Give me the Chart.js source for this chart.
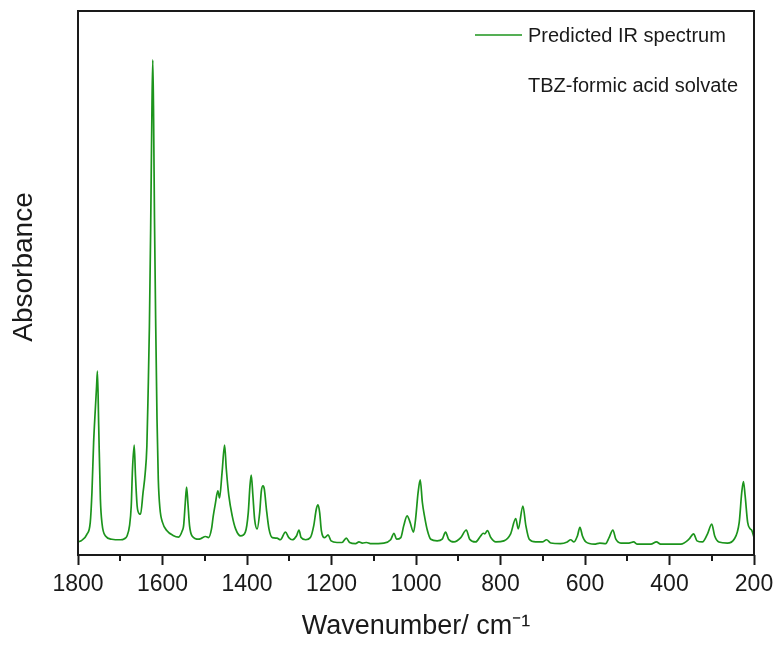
<!DOCTYPE html>
<html>
<head>
<meta charset="utf-8">
<script src="https://cdn.jsdelivr.net/npm/chart.js@4.4.1/dist/chart.umd.min.js"></script>
<style>
  html, body { margin: 0; padding: 0; background: #fff; }
  #wrap { width: 777px; height: 645px; }
</style>
</head>
<body>
<div id="wrap"><canvas id="myChart" width="777" height="645"></canvas></div>
<script>
// values (wavenumber in cm-1, absorbance in arbitrary units)
const wavenumbers = [
  1800, 1791, 1779, 1771, 1767, 1763, 1759, 1756, 1754, 1751, 1747, 1743, 1735, 1720, 1700, 1690,
  1684, 1678, 1674, 1671, 1667, 1664, 1660, 1655, 1652, 1646, 1641, 1637, 1634, 1631, 1628, 1625,
  1623, 1621, 1619, 1616, 1613, 1610, 1606, 1600, 1590, 1575, 1562, 1553, 1550, 1546, 1543, 1540,
  1536, 1530, 1514, 1510, 1498, 1491, 1484, 1480, 1475, 1469, 1465, 1459, 1453, 1449, 1443, 1435,
  1427, 1415, 1404, 1397, 1393, 1390, 1386, 1382, 1376, 1370, 1366, 1362, 1359, 1354, 1348, 1340,
  1329, 1321, 1309, 1301, 1293, 1283, 1277, 1272, 1261, 1250, 1242, 1236, 1232, 1228, 1224, 1216,
  1208, 1201, 1187, 1175, 1165, 1157, 1143, 1135, 1127, 1117, 1108, 1076, 1060, 1052, 1046, 1036,
  1029, 1021, 1014, 1006, 1001, 995, 990, 985, 980, 973, 965, 950, 938, 930, 923, 910,
  894, 881, 873, 859, 847, 841, 837, 831, 823, 811, 792, 776, 764, 758, 747, 740,
  732, 717, 701, 691, 681, 658, 642, 634, 626, 618, 612, 606, 598, 578, 565, 551,
  543, 534, 527, 515, 496, 485, 476, 444, 431, 421, 373, 354, 343, 335, 322, 310,
  300, 293, 283, 263, 247, 235, 229, 225, 221, 215, 209, 205, 200
];
const absorbance = [
  0.024, 0.027, 0.038, 0.060, 0.115, 0.207, 0.268, 0.310, 0.338, 0.237, 0.103, 0.057, 0.035, 0.029, 0.028, 0.030,
  0.035, 0.054, 0.090, 0.158, 0.202, 0.146, 0.090, 0.076, 0.075, 0.115, 0.150, 0.200, 0.300, 0.420, 0.600, 0.820,
  0.910, 0.800, 0.620, 0.420, 0.250, 0.140, 0.085, 0.060, 0.045, 0.036, 0.033, 0.045, 0.054, 0.097, 0.125, 0.097,
  0.054, 0.035, 0.029, 0.030, 0.034, 0.032, 0.048, 0.071, 0.094, 0.118, 0.105, 0.152, 0.202, 0.158, 0.109, 0.072,
  0.048, 0.035, 0.042, 0.078, 0.127, 0.147, 0.109, 0.066, 0.048, 0.078, 0.118, 0.127, 0.121, 0.084, 0.048, 0.032,
  0.031, 0.028, 0.042, 0.032, 0.028, 0.035, 0.046, 0.032, 0.028, 0.032, 0.054, 0.084, 0.092, 0.078, 0.045, 0.032,
  0.037, 0.026, 0.023, 0.023, 0.031, 0.023, 0.021, 0.024, 0.022, 0.023, 0.021, 0.022, 0.028, 0.040, 0.029, 0.032,
  0.054, 0.072, 0.060, 0.042, 0.066, 0.115, 0.138, 0.097, 0.072, 0.045, 0.029, 0.026, 0.029, 0.042, 0.029, 0.024,
  0.032, 0.046, 0.029, 0.024, 0.035, 0.040, 0.039, 0.045, 0.032, 0.024, 0.026, 0.039, 0.067, 0.048, 0.090, 0.054,
  0.029, 0.024, 0.024, 0.028, 0.022, 0.021, 0.024, 0.028, 0.024, 0.035, 0.051, 0.035, 0.024, 0.020, 0.022, 0.021,
  0.032, 0.046, 0.029, 0.022, 0.022, 0.024, 0.020, 0.020, 0.024, 0.020, 0.020, 0.029, 0.039, 0.026, 0.024, 0.039,
  0.057, 0.035, 0.024, 0.022, 0.029, 0.060, 0.115, 0.135, 0.109, 0.060, 0.048, 0.045, 0.032
];
const majorTicks = [1800, 1600, 1400, 1200, 1000, 800, 600, 400, 200];
const minorTicks = [1700, 1500, 1300, 1100, 900, 700, 500, 300];

const lineColor = '#1c941c';
const fontFamily = '"Liberation Sans", Arial, Helvetica, sans-serif';

// frame, minor ticks, y title and the legend with its note
const decorations = {
  id: 'decorations',
  afterDraw(chart) {
    const { ctx, chartArea } = chart;
    const xs = chart.scales.x;
    ctx.save();
    ctx.strokeStyle = '#1a1a1a';
    ctx.lineWidth = 2;
    ctx.strokeRect(chartArea.left, chartArea.top, chartArea.right - chartArea.left, chartArea.bottom - chartArea.top);

    ctx.beginPath();
    minorTicks.forEach(v => {
      const px = Math.round(xs.getPixelForValue(v));
      ctx.moveTo(px, chartArea.bottom);
      ctx.lineTo(px, chartArea.bottom + 6);
    });
    ctx.stroke();

    // y axis title
    ctx.save();
    ctx.translate(24, chartArea.top + 256);
    ctx.rotate(-Math.PI / 2);
    ctx.fillStyle = '#1a1a1a';
    ctx.font = '28px ' + fontFamily;
    ctx.textAlign = 'center';
    ctx.textBaseline = 'middle';
    ctx.fillText('Absorbance', 0, 0);
    ctx.restore();

    const lx = chartArea.right - 279;
    const ly = chartArea.top + 24;
    ctx.strokeStyle = lineColor;
    ctx.lineWidth = 1.5;
    ctx.beginPath();
    ctx.moveTo(lx, ly);
    ctx.lineTo(lx + 47, ly);
    ctx.stroke();

    ctx.fillStyle = '#1a1a1a';
    ctx.font = '20px ' + fontFamily;
    ctx.textBaseline = 'middle';
    ctx.textAlign = 'left';
    ctx.fillText(chart.data.datasets[0].label, lx + 53, ly + 1);
    ctx.fillText('TBZ-formic acid solvate', lx + 53, ly + 51);
    ctx.restore();
  }
};

new Chart(document.getElementById('myChart'), {
  type: 'line',
  data: {
    datasets: [{
      label: 'Predicted IR spectrum',
      data: wavenumbers.map((w, i) => ({ x: w, y: absorbance[i] })),
      borderColor: lineColor,
      borderWidth: 1.7,
      pointRadius: 0,
      fill: false,
      cubicInterpolationMode: 'monotone'
    }]
  },
  options: {
    responsive: false,
    animation: false,
    devicePixelRatio: 1,
    layout: { padding: { top: 11, right: 23, bottom: 0, left: 0 } },
    plugins: {
      legend: { display: false },
      tooltip: { enabled: false }
    },
    scales: {
      x: {
        type: 'linear',
        reverse: true,
        min: 200,
        max: 1800,
        afterBuildTicks: scale => { scale.ticks = majorTicks.map(v => ({ value: v })); },
        afterFit: scale => {
          scale.height = 90;
          scale.paddingLeft = 0;
          scale.paddingRight = 0;
        },
        grid: {
          display: true,
          drawOnChartArea: false,
          drawTicks: true,
          tickLength: 10,
          tickWidth: 2,
          tickColor: '#1a1a1a'
        },
        border: { display: false },
        ticks: {
          color: '#1a1a1a',
          padding: 6,
          maxRotation: 0,
          font: { family: fontFamily, size: 23 },
          callback: v => String(v)
        },
        title: {
          display: true,
          text: 'Wavenumber/ cm\u207B\u00B9',
          color: '#1a1a1a',
          font: { family: fontFamily, size: 27 },
          padding: { top: 0, bottom: 2 }
        }
      },
      y: {
        min: 0,
        max: 1,
        afterFit: scale => { scale.width = 78; },
        grid: { display: false, drawTicks: false },
        border: { display: false },
        ticks: { display: false },
        title: { display: false }
      }
    }
  },
  plugins: [decorations]
});
</script>
</body>
</html>
